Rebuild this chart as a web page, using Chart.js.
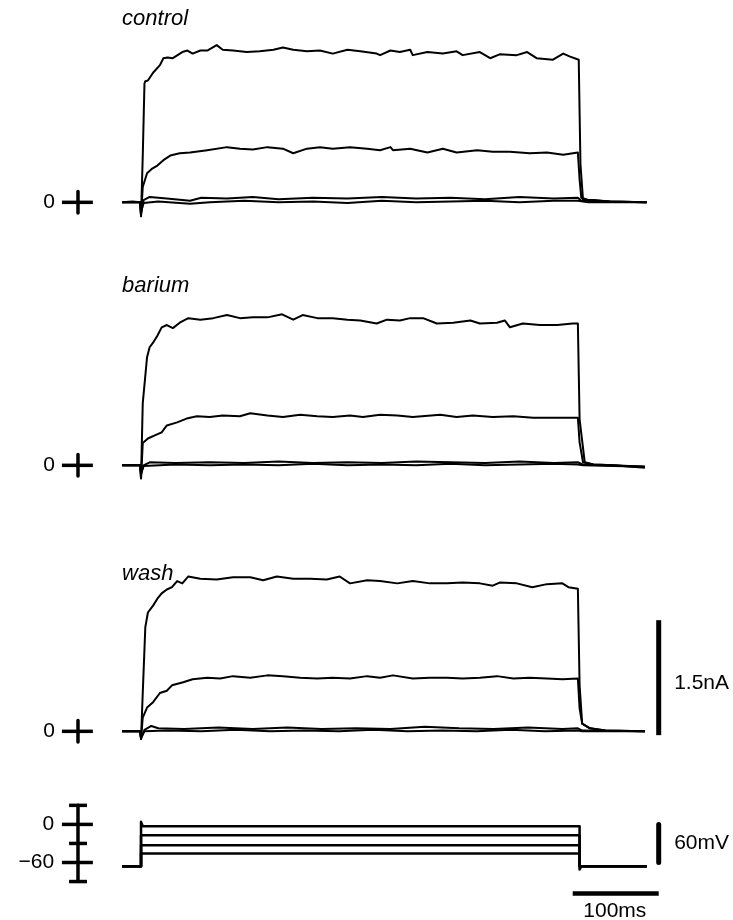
<!DOCTYPE html>
<html>
<head>
<meta charset="utf-8">
<script src="https://cdn.jsdelivr.net/npm/chart.js@4.4.0/dist/chart.umd.min.js"></script>
<style>
  html, body { margin: 0; padding: 0; background: #fff; overflow: hidden; }
  #fig { position: relative; width: 733px; height: 920px; }
  .panel { position: absolute; left: 0; width: 733px; }
</style>
</head>
<body>
<div id="fig">
  <div class="panel" style="top:3px"><canvas id="control" width="733" height="230"></canvas></div>
  <div class="panel" style="top:266px"><canvas id="barium" width="733" height="230"></canvas></div>
  <div class="panel" style="top:532px"><canvas id="wash" width="733" height="230"></canvas></div>
  <div class="panel" style="top:799px"><canvas id="volt" width="733" height="127"></canvas></div>
</div>
<script>
// time axis in ms, pulse starts at 0 ms
const X_MIN = -164, X_MAX = 688.4;

// current traces, [ms, nA]
const controlTrace1 = [[-22,0],[-10,0.01],[-1,0],[0,-0.18],[2,0.6],[4,1.55],[5,1.58],[8,1.59],[14,1.69],[22,1.79],[26,1.88],[31,1.89],[37,1.88],[48,1.96],[54,1.98],[60,1.94],[69,1.98],[77,1.98],[88,2.05],[95,1.99],[107,1.98],[123,1.96],[138,1.97],[154,1.99],[165,2.02],[177,1.99],[193,1.97],[208,1.98],[223,1.94],[240,1.99],[255,1.97],[274,1.94],[278,1.92],[290,1.98],[301,1.96],[313,1.99],[316,1.92],[333,1.96],[351,1.94],[367,1.97],[374,1.92],[394,1.96],[406,1.88],[417,1.93],[437,1.92],[449,1.96],[460,1.88],[479,1.86],[491,1.94],[499,1.90],[509,1.86],[511,0.5],[514,0.03],[526,0.03],[545,0.01],[588,0]];
const controlTrace2 = [[-22,0],[-1,0],[0,-0.18],[2,0.2],[7,0.38],[13,0.44],[19,0.48],[26,0.55],[34,0.61],[45,0.64],[57,0.65],[77,0.68],[100,0.72],[115,0.70],[130,0.69],[147,0.72],[165,0.70],[177,0.64],[193,0.70],[208,0.72],[223,0.70],[243,0.72],[263,0.70],[278,0.68],[290,0.72],[293,0.68],[313,0.70],[333,0.65],[351,0.70],[367,0.65],[391,0.68],[409,0.66],[429,0.66],[452,0.64],[472,0.65],[491,0.62],[508,0.65],[510,0.3],[512,0.06],[520,0.03],[545,0.01],[588,0]];
const controlTrace3 = [[-22,0],[-1,0],[0,-0.15],[3,0.03],[10,0.07],[30,0.05],[57,0.02],[70,0.06],[100,0.05],[130,0.07],[160,0.04],[200,0.06],[240,0.05],[280,0.07],[320,0.05],[360,0.06],[400,0.04],[440,0.07],[480,0.05],[508,0.06],[512,0.02],[540,0.01],[588,0]];
const controlTrace4 = [[-22,0],[-1,0],[0,-0.12],[3,-0.01],[20,0.01],[57,-0.02],[80,0],[120,0.02],[160,0],[200,0.01],[240,-0.01],[280,0.02],[320,0],[360,0.01],[400,0.02],[440,0],[480,0.02],[508,0.02],[520,0],[588,0]];

const bariumTrace1 = [[-22,0],[-1,0],[0,-0.17],[2,0.81],[7,1.41],[10,1.54],[14,1.60],[19,1.69],[24,1.80],[30,1.83],[37,1.79],[45,1.86],[55,1.92],[69,1.90],[84,1.92],[100,1.96],[115,1.92],[130,1.93],[147,1.93],[164,1.97],[177,1.90],[188,1.96],[205,1.92],[223,1.92],[240,1.90],[255,1.89],[274,1.85],[286,1.90],[301,1.89],[313,1.92],[328,1.92],[344,1.85],[363,1.86],[383,1.89],[394,1.85],[414,1.86],[423,1.89],[429,1.80],[444,1.85],[464,1.83],[484,1.83],[502,1.85],[508,1.85],[510,0.6],[516,0.04],[526,0.01],[549,0],[586,-0.03]];
const bariumTrace2 = [[-22,0],[-1,0],[0,-0.17],[2,0.29],[8,0.35],[16,0.39],[24,0.43],[30,0.52],[42,0.56],[53,0.61],[65,0.64],[80,0.63],[95,0.65],[115,0.64],[127,0.68],[147,0.65],[165,0.63],[185,0.66],[205,0.64],[223,0.63],[243,0.65],[258,0.63],[278,0.66],[298,0.65],[316,0.63],[348,0.66],[367,0.63],[386,0.65],[409,0.63],[433,0.64],[456,0.62],[479,0.62],[508,0.62],[510,0.3],[514,0.04],[526,0.01],[549,0],[586,-0.02]];
const bariumTrace3 = [[-22,0],[-1,0],[0,-0.12],[3,0],[10,0.04],[40,0.03],[80,0.04],[120,0.03],[160,0.05],[200,0.03],[240,0.04],[280,0.03],[320,0.05],[360,0.04],[400,0.03],[440,0.05],[480,0.03],[508,0.04],[514,0.01],[586,-0.02]];
const bariumTrace4 = [[-22,0],[-1,0],[0,-0.1],[3,-0.01],[40,0.01],[80,0],[120,0.01],[160,0],[200,0.02],[240,0],[280,0.01],[320,0],[360,0.02],[400,0],[440,0.01],[480,0.02],[508,0.01],[514,0],[586,-0.02]];

const washTrace1 = [[-22,0],[-1,0],[0,-0.1],[2,0.5],[5,1.36],[8,1.55],[14,1.64],[19,1.73],[24,1.80],[30,1.85],[36,1.88],[42,1.96],[48,1.93],[55,2.02],[69,1.99],[88,1.98],[107,2.01],[127,2.01],[142,1.97],[158,2.02],[177,1.99],[197,1.99],[216,1.98],[231,2.02],[243,1.93],[263,1.97],[278,1.96],[298,1.93],[316,1.96],[336,1.93],[356,1.93],[374,1.94],[394,1.93],[409,1.90],[417,1.94],[437,1.93],[455,1.88],[472,1.92],[490,1.93],[497,1.88],[508,1.86],[510,0.6],[513,0.10],[522,0.04],[540,0.01],[586,0]];
const washTrace2 = [[-22,0],[-1,0],[0,-0.1],[2,0.18],[7,0.31],[14,0.38],[22,0.50],[30,0.53],[36,0.60],[49,0.64],[60,0.68],[77,0.70],[92,0.69],[107,0.72],[127,0.70],[147,0.73],[165,0.72],[185,0.70],[205,0.69],[223,0.70],[243,0.69],[263,0.72],[278,0.70],[293,0.73],[316,0.69],[336,0.70],[356,0.70],[374,0.69],[394,0.70],[414,0.72],[433,0.69],[452,0.70],[472,0.69],[490,0.68],[508,0.69],[510,0.3],[513,0.10],[522,0.04],[540,0.01],[586,0]];
const washTrace3 = [[-22,0],[-1,0],[0,-0.1],[4,0.02],[12,0.07],[20,0.04],[50,0.03],[90,0.05],[130,0.03],[170,0.05],[210,0.03],[250,0.04],[290,0.03],[330,0.06],[370,0.04],[410,0.03],[450,0.05],[490,0.03],[508,0.04],[513,0.01],[586,0]];
const washTrace4 = [[-22,0],[-1,0],[0,-0.08],[4,0],[30,0.01],[70,0],[110,0.02],[150,0],[190,0.01],[230,0],[270,0.02],[310,0],[350,0.01],[390,0],[430,0.02],[470,0],[508,0.01],[513,0],[586,0]];

// voltage protocol, [ms, mV]
const voltTrace1 = [[-22,-66],[0,-66],[0,4],[2,-3],[510,-3],[510,-71],[512,-66],[588,-66]];
const voltTrace2 = [[-22,-66],[0,-66],[0,-17],[510,-17],[510,-66],[588,-66]];
const voltTrace3 = [[-22,-66],[0,-66],[0,-33],[510,-33],[510,-66],[588,-66]];
const voltTrace4 = [[-22,-66],[0,-66],[0,-46],[510,-46],[510,-66],[588,-66]];
const voltTicks = [30, 0, -30, -60, -90];
const voltTickLabels = ['0', '\u221260'];

// scale bars
const currentBar = 1.5;   // nA
const voltBar = 60;       // mV
const timeBar = 100;      // ms

const AXIS_T = -73.3;     // ms position of the little vertical axes
const FONT = '"Liberation Sans", Arial, Helvetica, sans-serif';

const pts = arr => arr.map(([x, y]) => ({ x, y }));

function line(data, width) {
  return {
    data: pts(data),
    borderColor: '#000',
    borderWidth: width,
    pointRadius: 0,
    tension: 0,
    fill: false,
    borderCapStyle: 'butt',
    borderJoinStyle: 'round',
  };
}

const textPlugin = {
  id: 'figText',
  afterDraw(chart, args, opts) {
    const ctx = chart.ctx;
    const xs = chart.scales.x, ys = chart.scales.y;
    ctx.save();
    ctx.fillStyle = '#000';
    (opts.items || []).forEach(it => {
      ctx.font = it.font;
      ctx.textAlign = it.align || 'left';
      ctx.textBaseline = it.baseline || 'middle';
      ctx.fillText(it.text, xs.getPixelForValue(it.x), ys.getPixelForValue(it.y));
    });
    ctx.restore();
  }
};

function makeChart(id, datasets, yMin, yMax, items) {
  return new Chart(document.getElementById(id), {
    type: 'line',
    data: { datasets },
    options: {
      responsive: false,
      animation: false,
      layout: { padding: 0 },
      scales: {
        x: { type: 'linear', min: X_MIN, max: X_MAX, display: false },
        y: { type: 'linear', min: yMin, max: yMax, display: false }
      },
      plugins: { legend: { display: false }, tooltip: { enabled: false }, figText: { items } }
    },
    plugins: [textPlugin]
  });
}

function currentPanel(id, title, titleY, traces, withBar) {
  const ds = traces.map(t => line(t, 2));
  ds.push(line([[-92, 0], [-56, 0]], 3.5));
  ds.push(line([[AXIS_T, 0.14], [AXIS_T, -0.14]], 3.5));
  const items = [
    { text: title, x: -22, y: titleY, align: 'left', baseline: 'alphabetic', font: 'italic 22px ' + FONT },
    { text: '0', x: -107, y: 0, align: 'center', font: '21px ' + FONT }
  ];
  if (withBar) {
    ds.push(line([[602, -0.05], [602, -0.05 + currentBar]], 5));
    items.push({ text: currentBar + 'nA', x: 620, y: 0.63, align: 'left', font: '21px ' + FONT });
  }
  makeChart(id, ds, -0.4, 2.6, items);
}

currentPanel('control', 'control', 2.31, [controlTrace1, controlTrace2, controlTrace3, controlTrace4], false);
currentPanel('barium', 'barium', 2.26, [bariumTrace1, bariumTrace2, bariumTrace3, bariumTrace4], false);
currentPanel('wash', 'wash', 1.97, [washTrace1, washTrace2, washTrace3, washTrace4], true);

// voltage panel
const vds = [voltTrace1, voltTrace2, voltTrace3, voltTrace4].map(t => line(t, 2.5));
vds.push(line([[AXIS_T, voltTicks[0]], [AXIS_T, voltTicks[voltTicks.length - 1]]], 3.5));
voltTicks.forEach((v, i) => {
  const long = i % 2 === 1;
  vds.push(line([[long ? -92 : -83.7, v], [long ? -56 : -62.8, v]], 3.5));
});
vds.push(line([[602, 0], [602, -voltBar]], 5));
vds.push(line([[602 - timeBar, -109], [602, -109]], 4.5));
makeChart('volt', vds, -160, 40, [
  { text: voltTickLabels[0], x: -101, y: 0, align: 'right', font: '21px ' + FONT },
  { text: voltTickLabels[1], x: -101, y: -60, align: 'right', font: '21px ' + FONT },
  { text: voltBar + 'mV', x: 620, y: -30, align: 'left', font: '21px ' + FONT },
  { text: timeBar + 'ms', x: 551, y: -136, align: 'center', font: '21px ' + FONT }
]);
</script>
</body>
</html>
